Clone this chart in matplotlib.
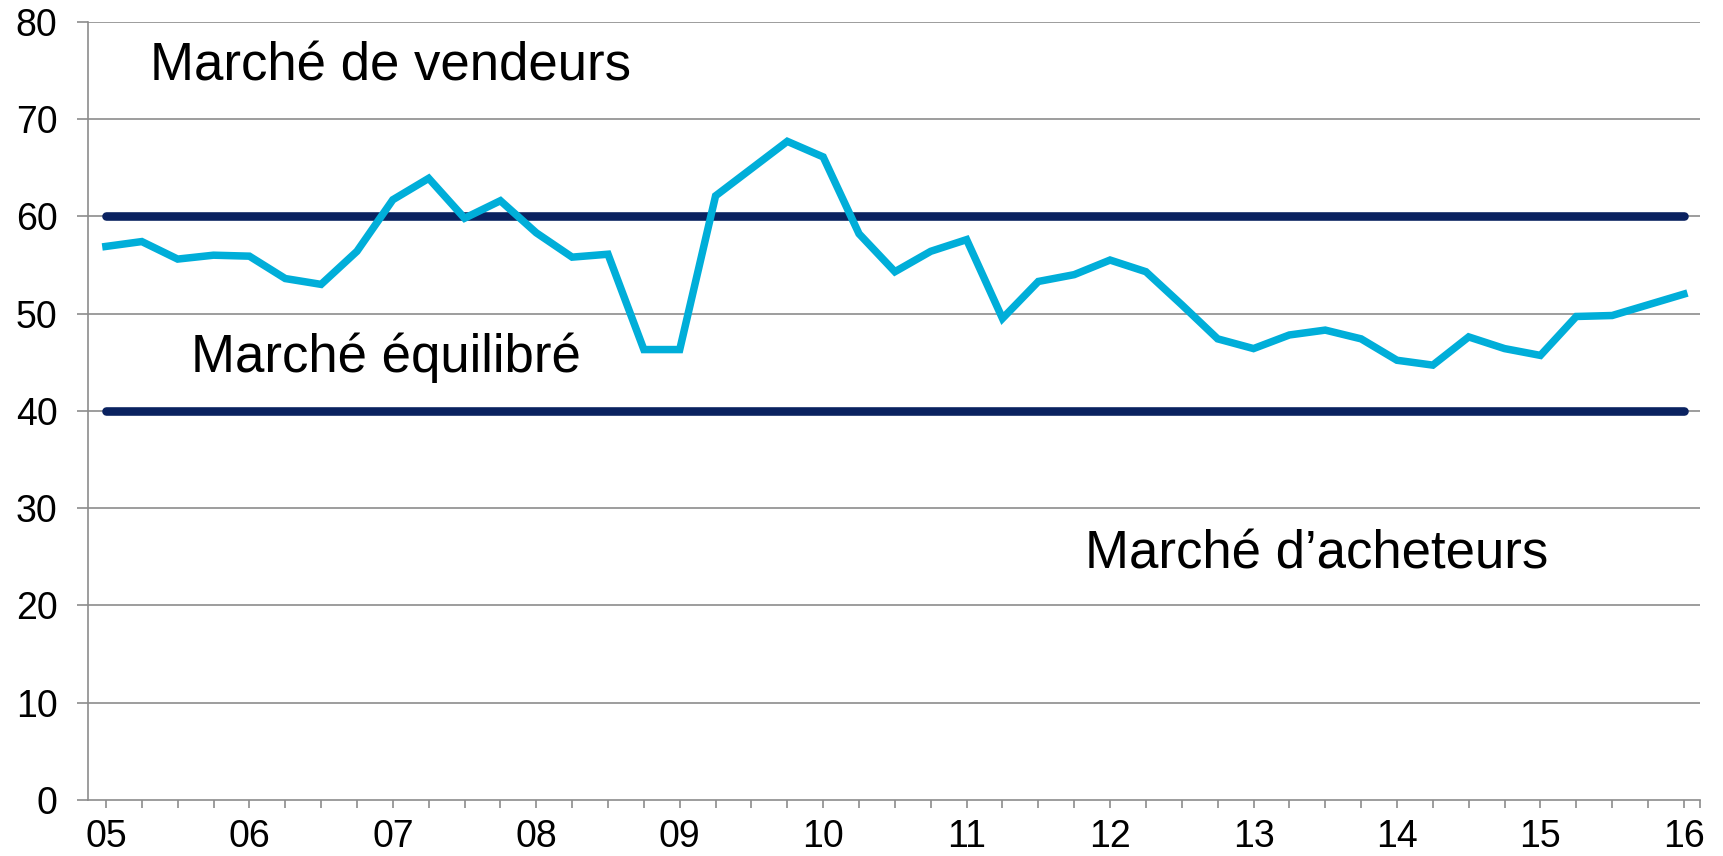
import matplotlib
matplotlib.use("Agg")
import matplotlib.pyplot as plt
import numpy as np

plt.rcParams['font.family'] = ['Liberation Sans', 'DejaVu Sans']

# Quarterly index, 2005Q1 .. 2016Q1
values = [56.9, 57.4, 55.6, 56.0, 55.9, 53.6, 53.0, 56.4,
          61.7, 63.9, 59.8, 61.6, 58.3, 55.8, 56.1, 46.3,
          46.3, 62.1, 64.9, 67.7, 66.1, 58.2, 54.3, 56.4,
          57.6, 49.5, 53.3, 54.0, 55.5, 54.3, 50.9, 47.4,
          46.4, 47.8, 48.3, 47.4, 45.2, 44.7, 47.6, 46.4,
          45.7, 49.7, 49.8, 50.9, 52.0]
year_labels = ["05", "06", "07", "08", "09", "10", "11", "12", "13", "14", "15", "16"]
upper_threshold = 60
lower_threshold = 40
zone_labels = ["Marché de vendeurs", "Marché équilibré", "Marché d\u2019acheteurs"]
y_ticks = [0, 10, 20, 30, 40, 50, 60, 70, 80]

n = len(values)
x = np.arange(n)

fig = plt.figure(figsize=(17.23, 8.56), dpi=100)
ax = fig.add_axes([88/1723, 1 - 800/856, (1700-88)/1723, (800-21.7)/856])

grid_color = "#8C8C8C"
for v in y_ticks[1:]:
    ax.axhline(v, color=grid_color, lw=1.2, zorder=1)

ax.plot(x, [upper_threshold]*n, color="#0A2260", lw=6.2, solid_capstyle="round", zorder=3)
ax.plot(x, [lower_threshold]*n, color="#0A2260", lw=6.2, solid_capstyle="round", zorder=3)
ax.plot(x, values, color="#00AED9", lw=5.4, solid_joinstyle="miter", zorder=4)

ax.set_xlim(-0.5, 44.45)
ax.set_ylim(0, 80)

ax.set_yticks(y_ticks)
ax.set_yticklabels([str(v) for v in y_ticks])
ax.set_xticks(np.arange(0, n))
ax.set_xticklabels([year_labels[i // 4] if i % 4 == 0 else "" for i in range(n)])
ax.set_xticks([44.45], minor=True)

for s in ["top", "right"]:
    ax.spines[s].set_visible(False)
for s in ["left", "bottom"]:
    ax.spines[s].set_color(grid_color)
    ax.spines[s].set_linewidth(1.2)

ax.tick_params(axis="y", length=8, width=1.2, color=grid_color, pad=14,
               labelsize=27, labelcolor="black")
ax.tick_params(axis="x", which="both", length=6, width=1.2, color=grid_color, pad=8,
               labelsize=27, labelcolor="black")

ax.text(1.23, 74.0, zone_labels[0], fontsize=38, ha="left", va="baseline", zorder=5)
ax.text(2.37, 44.0, zone_labels[1], fontsize=38, ha="left", va="baseline", zorder=5)
ax.text(27.3, 23.75, zone_labels[2], fontsize=38, ha="left", va="baseline", zorder=5)

fig.savefig("out.png", dpi=100)
